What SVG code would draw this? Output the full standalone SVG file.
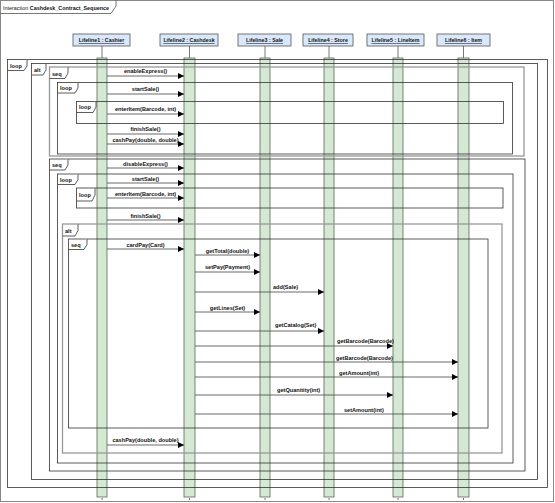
<svg xmlns="http://www.w3.org/2000/svg" width="555" height="503" viewBox="0 0 555 503">
<style>
text{font-family:"Liberation Sans",Arial,sans-serif;fill:#111}
.lbl{font-size:5.6px;font-weight:bold}
.ll{font-size:5.3px;font-weight:bold;text-decoration:underline;text-anchor:middle}
.head{fill:#dae8fc;stroke:#555;stroke-width:0.8}
.bar{fill:#d5e8d4;stroke:#556b50;stroke-width:0.8}
.stem{stroke:#555;stroke-width:0.8}
.frag{fill:none;stroke:#333;stroke-width:0.8}
.fragg{fill:none;stroke:#999;stroke-width:1.3}
.tab{fill:#fff;stroke:#333;stroke-width:0.8}
.msg{stroke:#444;stroke-width:0.8;fill:none;marker-end:url(#ah)}
.mid{text-anchor:middle}
</style>
<defs>
<marker id="ah" markerUnits="userSpaceOnUse" markerWidth="8" markerHeight="8" refX="6" refY="3" orient="auto">
<path d="M0,0 L6,3 L0,6 Z" fill="#000"/>
</marker>
</defs>
<rect width="555" height="503" fill="#fff"/>
<g id="frame">
<rect x="0.5" y="0.5" width="553" height="501" fill="none" stroke="#888" stroke-width="1"/>
<path d="M0.5,13.5 H111 L116,6 V0.5" fill="none" stroke="#555" stroke-width="0.8"/>
<text x="3" y="9.5" style="font-size:5.6px" textLength="106" lengthAdjust="spacingAndGlyphs">Interaction  <tspan font-weight="bold">Cashdesk_Contract_Sequence</tspan></text>
</g>
<g id="lifeline1">
<rect class="head" x="73" y="34" width="57" height="12"/>
<text class="ll" x="101.5" y="42">Lifeline1 : Cashier</text>
<line class="stem" x1="102" y1="46" x2="102" y2="58"/>
<rect class="bar" x="97" y="58" width="10" height="439"/>
<line class="stem" x1="102" y1="498" x2="102" y2="500"/>
</g>
<g id="lifeline2">
<rect class="head" x="160" y="34" width="58" height="12"/>
<text class="ll" x="189" y="42">Lifeline2 : Cashdesk</text>
<line class="stem" x1="189.5" y1="46" x2="189.5" y2="58"/>
<rect class="bar" x="184" y="58" width="11" height="439"/>
<line class="stem" x1="189.5" y1="498" x2="189.5" y2="500"/>
</g>
<g id="lifeline3">
<rect class="head" x="238" y="34" width="53" height="12"/>
<text class="ll" x="264.5" y="42">Lifeline3 : Sale</text>
<line class="stem" x1="265" y1="46" x2="265" y2="58"/>
<rect class="bar" x="260" y="58" width="10" height="439"/>
<line class="stem" x1="265" y1="498" x2="265" y2="500"/>
</g>
<g id="lifeline4">
<rect class="head" x="303" y="34" width="50" height="12"/>
<text class="ll" x="328" y="42">Lifeline4 : Store</text>
<line class="stem" x1="329" y1="46" x2="329" y2="58"/>
<rect class="bar" x="324" y="58" width="10" height="439"/>
<line class="stem" x1="329" y1="498" x2="329" y2="500"/>
</g>
<g id="lifeline5">
<rect class="head" x="367" y="34" width="57" height="12"/>
<text class="ll" x="395.5" y="42">Lifeline5 : LineItem</text>
<line class="stem" x1="398" y1="46" x2="398" y2="58"/>
<rect class="bar" x="393" y="58" width="10" height="439"/>
<line class="stem" x1="398" y1="498" x2="398" y2="500"/>
</g>
<g id="lifeline6">
<rect class="head" x="437" y="34" width="53" height="12"/>
<text class="ll" x="463.5" y="42">Lifeline6 : Item</text>
<line class="stem" x1="463.5" y1="46" x2="463.5" y2="58" stroke-width="1.4"/>
<rect class="bar" x="458" y="58" width="11" height="439"/>
<line class="stem" x1="463.5" y1="498" x2="463.5" y2="500"/>
</g>
<g id="fragments">
<rect class="frag" x="7.5" y="59.5" width="540" height="428"/>
<path class="tab" d="M7.5,70.5 H24 L27,66 V59.5"/>
<text class="lbl" x="10" y="67.5">loop</text>
<rect class="frag" x="31.5" y="63.5" width="506" height="416"/>
<path class="tab" d="M31.5,75 H43 L46,70 V63.5"/>
<text class="lbl" x="34" y="71.5">alt</text>
<rect class="fragg" x="49.5" y="67" width="474.5" height="89"/>
<path class="tab" d="M49.5,78.5 H65 L68,73 V67"/>
<text class="lbl" x="52" y="75.5">seq</text>
<rect class="frag" x="57.5" y="82.5" width="455" height="71.5"/>
<path class="tab" d="M57.5,93 H75 L78,88 V82.5"/>
<text class="lbl" x="60" y="90">loop</text>
<rect class="frag" x="76.5" y="101.5" width="427" height="22"/>
<path class="tab" d="M76.5,112.5 H93 L96,107 V101.5"/>
<text class="lbl" x="79" y="109">loop</text>
<rect class="frag" x="49.5" y="159" width="475.5" height="312"/>
<path class="tab" d="M49.5,170 H65 L68,165 V159"/>
<text class="lbl" x="52" y="167">seq</text>
<rect class="frag" x="57.5" y="174" width="455.5" height="289"/>
<path class="tab" d="M57.5,184.5 H75 L78,179.5 V174"/>
<text class="lbl" x="60" y="181.5">loop</text>
<rect class="frag" x="76.5" y="188" width="426.5" height="20"/>
<path class="tab" d="M76.5,201 H92 L95,195 V188"/>
<text class="lbl" x="79" y="196.5">loop</text>
<rect class="fragg" x="62.5" y="224" width="439.5" height="229"/>
<path class="tab" d="M62.5,236 H75 L78,230.5 V224"/>
<text class="lbl" x="65" y="232.5">alt</text>
<rect class="frag" x="68.5" y="239" width="419.5" height="189"/>
<path class="tab" d="M68.5,249.5 H84 L87,244.5 V239"/>
<text class="lbl" x="71" y="247">seq</text>
</g>
<g id="connectors">
<line class="msg" x1="107" y1="76" x2="184" y2="76"/>
<text class="lbl mid" x="145.5" y="73">enableExpress()</text>
<line class="msg" x1="107" y1="94" x2="184" y2="94"/>
<text class="lbl mid" x="145.5" y="91">startSale()</text>
<line class="msg" x1="107" y1="114" x2="184" y2="114"/>
<text class="lbl mid" x="145.5" y="111">enterItem(Barcode, int)</text>
<line class="msg" x1="107" y1="134" x2="184" y2="134"/>
<text class="lbl mid" x="145.5" y="131">finishSale()</text>
<line class="msg" x1="107" y1="144" x2="184" y2="144"/>
<text class="lbl mid" x="145.5" y="142">cashPay(double, double)</text>
<line class="msg" x1="107" y1="168" x2="184" y2="168"/>
<text class="lbl mid" x="145.5" y="165.5">disableExpress()</text>
<line class="msg" x1="107" y1="183" x2="184" y2="183"/>
<text class="lbl mid" x="145.5" y="180.5">startSale()</text>
<line class="msg" x1="107" y1="198" x2="184" y2="198"/>
<text class="lbl mid" x="145.5" y="195.5">enterItem(Barcode, int)</text>
<line class="msg" x1="107" y1="220" x2="184" y2="220"/>
<text class="lbl mid" x="145.5" y="217.5">finishSale()</text>
<line class="msg" x1="107" y1="249" x2="184" y2="249"/>
<text class="lbl mid" x="145.5" y="246.5">cardPay(Card)</text>
<line class="msg" x1="195" y1="255" x2="260" y2="255"/>
<text class="lbl mid" x="227.5" y="253">getTotal(double)</text>
<line class="msg" x1="195" y1="272" x2="260" y2="272"/>
<text class="lbl mid" x="227.5" y="269">setPay(Payment)</text>
<line class="msg" x1="195" y1="292" x2="324" y2="292"/>
<text class="lbl" x="273" y="289">add(Sale)</text>
<line class="msg" x1="195" y1="312" x2="260" y2="312"/>
<text class="lbl mid" x="227.5" y="309.5">getLines(Set)</text>
<line class="msg" x1="195" y1="331" x2="324" y2="331"/>
<text class="lbl" x="275" y="327">getCatalog(Set)</text>
<line class="msg" x1="195" y1="346" x2="393" y2="346"/>
<text class="lbl" x="337" y="343">getBarcode(Barcode)</text>
<line class="msg" x1="195" y1="362" x2="458" y2="362"/>
<text class="lbl" x="336" y="359.5">getBarcode(Barcode)</text>
<line class="msg" x1="195" y1="377" x2="458" y2="377"/>
<text class="lbl" x="339" y="374.5">getAmount(int)</text>
<line class="msg" x1="195" y1="395" x2="393" y2="395"/>
<text class="lbl" x="277" y="391.5">getQuanitity(int)</text>
<line class="msg" x1="195" y1="414" x2="458" y2="414"/>
<text class="lbl" x="344" y="411.5">setAmount(int)</text>
<line class="msg" x1="107" y1="445" x2="184" y2="445"/>
<text class="lbl mid" x="145.5" y="442">cashPay(double, double)</text>
</g>
</svg>
